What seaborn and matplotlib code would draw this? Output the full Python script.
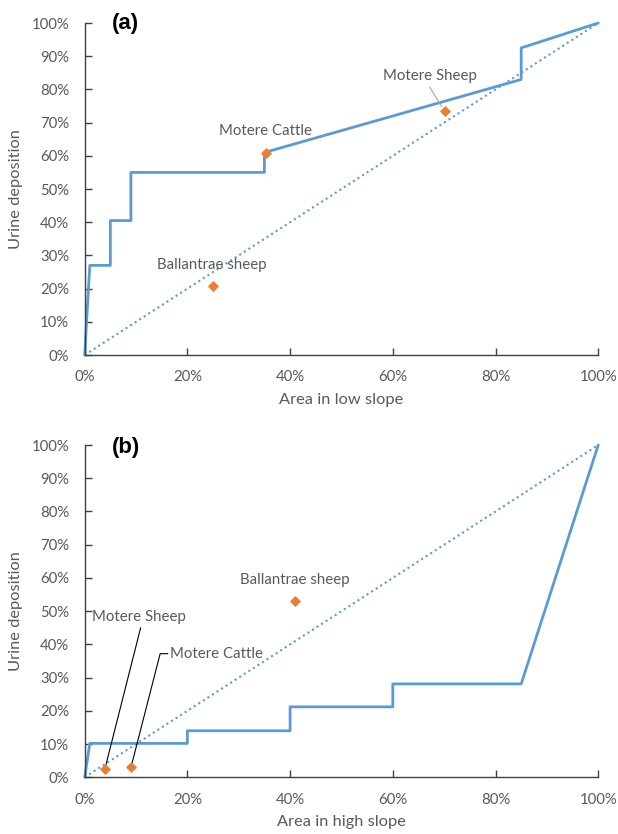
import matplotlib
matplotlib.use("Agg")
import matplotlib.pyplot as plt
import seaborn as sns
from matplotlib.ticker import FuncFormatter

sns.set_theme(style="white")
plt.rcParams["font.family"] = ["Lato", "DejaVu Sans"]

BLUE = "#5B9BD5"
ORANGE = "#ED7D31"
TEXT = "#595959"
AXIS = "#404040"

# Panel (a): cumulative urine deposition vs area in low slope
low_area = [0, 1, 1, 5, 5, 9, 9, 35, 35, 85, 85, 100]
low_urine = [0, 27, 27, 27, 40.5, 40.5, 55, 55, 61, 83, 92.5, 100]
low_names = ["Motere Cattle", "Motere Sheep", "Ballantrae sheep"]
low_site_area = [35.4, 70.2, 24.9]
low_site_urine = [61.0, 73.5, 20.9]

# Panel (b): cumulative urine deposition vs area in high slope
high_area = [0, 1, 20, 20, 40, 40, 60, 60, 85, 100]
high_urine = [0, 10.2, 10.2, 14, 14, 21.2, 21.2, 28.1, 28.1, 100]
high_names = ["Motere Cattle", "Motere Sheep", "Ballantrae sheep"]
high_site_area = [9.1, 3.9, 41.0]
high_site_urine = [3.1, 2.5, 53.0]

# 1:1 reference line
diag = [0, 100]

ticks = [0, 10, 20, 30, 40, 50, 60, 70, 80, 90, 100]
xticks = [0, 20, 40, 60, 80, 100]

fig = plt.figure(figsize=(6.18, 8.34), dpi=100)
ax_a = fig.add_axes([0.137, 0.5743, 0.831, 0.3981])
ax_b = fig.add_axes([0.137, 0.0680, 0.831, 0.3984])


def draw(ax, area, urine, sx, sy, xlabel):
    sns.lineplot(x=diag, y=diag, ax=ax, color=BLUE, lw=1.5,
                 linestyle=(0, (1, 1.6)), sort=False, estimator=None)
    sns.lineplot(x=area, y=urine, ax=ax, color=BLUE, lw=2,
                 sort=False, estimator=None)
    sns.scatterplot(x=sx, y=sy, ax=ax, color=ORANGE, marker="D", s=32,
                    edgecolor=ORANGE, linewidth=0, zorder=5)
    ax.set_xlim(0, 100)
    ax.set_ylim(0, 100)
    ax.set_xticks(xticks)
    ax.set_yticks(ticks)
    pct = FuncFormatter(lambda v, _: f"{v:.0f}%")
    ax.xaxis.set_major_formatter(pct)
    ax.yaxis.set_major_formatter(pct)
    ax.tick_params(axis="both", direction="in", length=5, width=1,
                   color=AXIS, labelcolor=TEXT, labelsize=10.7)
    ax.tick_params(axis="x", pad=11, bottom=True)
    ax.tick_params(axis="y", pad=11, left=True)
    for side in ("top", "right"):
        ax.spines[side].set_visible(False)
    for side in ("left", "bottom"):
        ax.spines[side].set_color(AXIS)
        ax.spines[side].set_linewidth(1)
    ax.set_xlabel(xlabel, color=TEXT, fontsize=11.8, labelpad=6)
    ax.set_ylabel("Urine deposition", color=TEXT, fontsize=11.8, labelpad=6)
    for coll in ax.collections:
        coll.set_clip_on(False)
    for ln in ax.lines:
        ln.set_clip_on(False)


draw(ax_a, low_area, low_urine, low_site_area, low_site_urine, "Area in low slope")
draw(ax_b, high_area, high_urine, high_site_area, high_site_urine, "Area in high slope")

lab = dict(color=TEXT, fontsize=10.8, ha="center", va="center")

# Panel (a) labels
ax_a.text(35.3, 67.5, low_names[0], **lab)
ax_a.text(24.8, 27.1, low_names[2], **lab)
ax_a.text(67.2, 84.0, low_names[1], **lab)
ax_a.plot([67.2, 69.5], [80.7, 74.8], color="#A6A6A6", lw=0.8)

# Panel (b) labels
ax_b.text(41.0, 59.4, high_names[2], **lab)
ax_b.text(10.6, 48.3, high_names[1], **lab)
ax_b.plot([10.9, high_site_area[1] + 0.2], [45.0, high_site_urine[1] + 1.0],
          color="black", lw=0.8)
ax_b.text(16.7, 37.2, high_names[0], color=TEXT, fontsize=10.8, ha="left", va="center")
ax_b.plot([16.2, 14.7, high_site_area[0] + 0.1],
          [37.2, 37.2, high_site_urine[0] + 1.0], color="black", lw=0.8)

# Panel tags
ax_a.text(0.08, 1.0, "(a)", transform=ax_a.transAxes, fontsize=16,
          fontweight="bold", family="Liberation Sans", color="black",
          ha="center", va="center")
ax_b.text(0.08, 0.992, "(b)", transform=ax_b.transAxes, fontsize=16,
          fontweight="bold", family="Liberation Sans", color="black",
          ha="center", va="center")

fig.savefig("out.png", dpi=100, facecolor="white")
